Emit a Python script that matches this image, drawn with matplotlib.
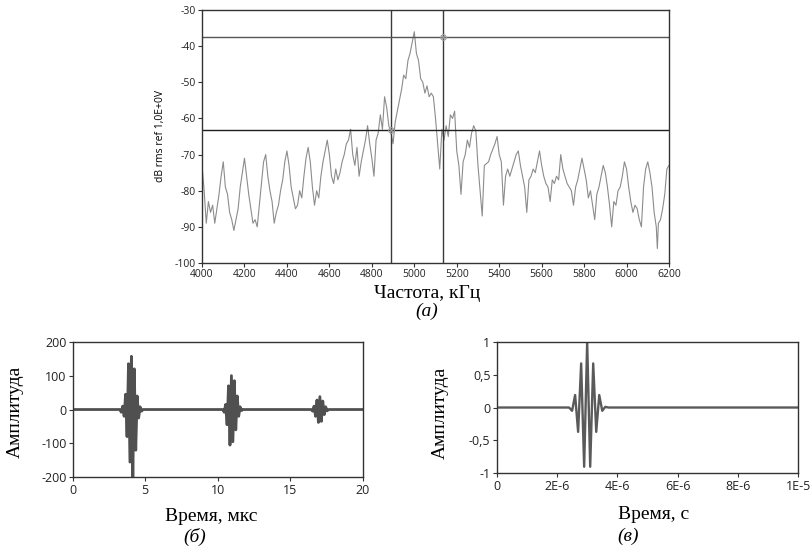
import matplotlib
matplotlib.use("Agg")
import matplotlib.pyplot as plt

plt.rcParams["axes.unicode_minus"] = False

# --- spectrum (a) ---
spec_khz = [4000, 4010, 4020, 4030, 4040, 4050, 4060, 4070, 4080, 4090,
            4100, 4110, 4120, 4130, 4140, 4150, 4160, 4170, 4180, 4190,
            4200, 4210, 4220, 4230, 4240, 4250, 4260, 4270, 4280, 4290,
            4300, 4310, 4320, 4330, 4340, 4350, 4360, 4370, 4380, 4390,
            4400, 4410, 4420, 4430, 4440, 4450, 4460, 4470, 4480, 4490,
            4500, 4510, 4520, 4530, 4540, 4550, 4560, 4570, 4580, 4590,
            4600, 4610, 4620, 4630, 4640, 4650, 4660, 4670, 4680, 4690,
            4700, 4710, 4720, 4730, 4740, 4750, 4760, 4770, 4780, 4790,
            4800, 4810, 4820, 4830, 4840, 4850, 4860, 4870, 4880, 4890,
            4900, 4910, 4920, 4930, 4940, 4950, 4960, 4970, 4980, 4990,
            5000, 5010, 5020, 5030, 5040, 5050, 5060, 5070, 5080, 5090,
            5100, 5110, 5120, 5130, 5140, 5150, 5160, 5170, 5180, 5190,
            5200, 5210, 5220, 5230, 5240, 5250, 5260, 5270, 5280, 5290,
            5300, 5320, 5330, 5350, 5360, 5380, 5390, 5400, 5410, 5420,
            5430, 5440, 5450, 5460, 5470, 5480, 5490, 5500, 5510, 5520,
            5530, 5540, 5550, 5560, 5570, 5580, 5590, 5600, 5610, 5620,
            5630, 5640, 5650, 5660, 5670, 5680, 5690, 5700, 5710, 5720,
            5730, 5740, 5750, 5760, 5770, 5780, 5790, 5800, 5810, 5820,
            5830, 5840, 5850, 5860, 5870, 5880, 5890, 5900, 5910, 5920,
            5930, 5940, 5950, 5960, 5970, 5980, 5990, 6000, 6010, 6020,
            6030, 6040, 6050, 6060, 6070, 6080, 6090, 6100, 6110, 6120,
            6130, 6140, 6145, 6150, 6160, 6170, 6180, 6190, 6200]
spec_db = [-73, -80, -89, -83, -86, -84, -89, -85, -81, -76,
           -72, -79, -81, -86, -88, -91, -88, -85, -79, -75,
           -71, -76, -81, -85, -89, -88, -90, -84, -78, -72,
           -70, -76, -80, -83, -89, -86, -84, -80, -77, -72,
           -69, -73, -79, -82, -85, -84, -80, -82, -76, -71,
           -68, -72, -79, -84, -80, -82, -76, -72, -69, -66,
           -70, -76, -78, -74, -77, -75, -72, -70, -67, -66,
           -63, -70, -73, -68, -76, -72, -69, -66, -62, -67,
           -71, -76, -66, -64, -59, -63, -54, -57, -62, -64,
           -67, -61, -58, -55, -52, -48, -49, -44, -42, -39,
           -36, -42, -44, -49, -50, -53, -51, -54, -53, -54,
           -60, -67, -74, -63, -66, -62, -65, -59, -60, -58,
           -69, -73, -81, -72, -70, -66, -68, -64, -62, -63.5,
           -73, -87, -73, -72, -70, -67, -65, -70, -72, -84,
           -76, -74, -76, -74, -72, -70, -69, -73, -76, -79,
           -86, -77, -76, -74, -75, -72, -69, -73, -76, -78,
           -79, -83, -77, -78, -76, -77, -70, -74, -76, -78,
           -79, -80, -84, -79, -77, -74, -71, -74, -77, -82,
           -80, -84, -88, -81, -79, -76, -73, -75, -79, -84,
           -90, -83, -84, -80, -79, -76, -72, -74, -79, -83,
           -86, -84, -85, -88, -90, -79, -74, -72, -75, -79,
           -86, -90, -96, -89, -88, -85, -81, -74, -73]
cursor_khz = [4890, 5137]
cursor_db = [-63.3, -37.5]

# --- signal with three echoes (б), time in us ---
echo_t = [0, 3.25, 3.35, 3.45, 3.55, 3.65, 3.75, 3.85, 3.95, 4.05, 4.15,
          4.25, 4.35, 4.45, 4.55, 4.65, 4.75, 4.85,
          10.35, 10.45, 10.55, 10.65, 10.75, 10.85, 10.95, 11.05, 11.15,
          11.25, 11.35, 11.45, 11.55, 11.65, 11.75,
          16.45, 16.55, 16.65, 16.75, 16.85, 16.95, 17.05, 17.15, 17.25,
          17.35, 17.45, 17.55, 17.65, 20]
echo_amp = [0, 0, -8, 10, -20, 45, -80, 135, -155, 157, -200,
            120, -120, 40, -25, 8, -5, 0,
            0, -8, 15, -45, 70, -105, 100, -95, 85,
            -60, 40, -20, 8, -3, 0,
            0, -5, 10, -20, 28, -38, 38, -35, 25,
            -15, 8, -4, 0, 0]

# --- probe pulse (в), time in s ---
pulse_t = [0, 2.4e-6, 2.5e-6, 2.6e-6, 2.7e-6, 2.8e-6, 2.9e-6, 3.0e-6,
           3.1e-6, 3.2e-6, 3.3e-6, 3.4e-6, 3.5e-6, 3.6e-6, 3.7e-6, 1e-5]
pulse_amp = [0, 0, -0.05, 0.19, -0.37, 0.67, -0.9, 1.0,
             -0.9, 0.67, -0.37, 0.19, -0.05, 0.01, 0, 0]

tick_font = "Open Sans"
serif = "Liberation Serif"
edge = "#333333"

fig = plt.figure(figsize=(8.12, 5.56), dpi=100)


def style(ax, size):
    for s in ax.spines.values():
        s.set_color(edge)
        s.set_linewidth(1.0)
    ax.tick_params(direction="out", length=3, width=0.8, color=edge,
                   labelsize=size, labelcolor="#222222", pad=1.5)
    for lab in ax.get_xticklabels() + ax.get_yticklabels():
        lab.set_fontfamily(tick_font)


# (a) spectrum
ax1 = fig.add_axes([0.2488, 0.527, 0.5751, 0.455])
ax1.plot(spec_khz, spec_db, color="#8c8c8c", lw=0.8)
ax1.axvline(cursor_khz[0], color="#3a3a3a", lw=1.0)
ax1.axvline(cursor_khz[1], color="#3a3a3a", lw=1.0)
ax1.axhline(cursor_db[0], color="#1e1e1e", lw=1.0)
ax1.axhline(cursor_db[1], color="#555555", lw=1.0)
ax1.plot(cursor_khz, cursor_db, "o", ms=4, mfc="none", mec="#a0a0a0", mew=0.8)
ax1.plot(cursor_khz, cursor_db, "x", ms=3, mec="#a0a0a0", mew=0.8)
ax1.set_xlim(4000, 6200)
ax1.set_ylim(-100, -30)
ax1.set_xticks(range(4000, 6201, 200))
ax1.set_yticks(range(-100, -29, 10))
ax1.set_ylabel("dB rms ref 1,0E+0V", fontsize=7.5, family=tick_font, labelpad=6)
style(ax1, 7.5)
fig.text(0.526, 0.473, "Частота, кГц", family=serif, fontsize=14,
         ha="center", va="center")
fig.text(0.526, 0.44, "(а)", family=serif, fontsize=14, style="italic",
         ha="center", va="center")

# (б) echoes
ax2 = fig.add_axes([0.0895, 0.1415, 0.3571, 0.2439])
ax2.plot(echo_t, echo_amp, color="#505050", lw=2.0)
ax2.set_xlim(0, 20)
ax2.set_ylim(-200, 200)
ax2.set_xticks([0, 5, 10, 15, 20])
ax2.set_yticks([-200, -100, 0, 100, 200])
style(ax2, 9)
fig.text(0.019, 0.26, "Амплитуда", family=serif, fontsize=14,
         rotation=90, ha="center", va="center")
fig.text(0.26, 0.071, "Время, мкс", family=serif, fontsize=14,
         ha="center", va="center")
fig.text(0.24, 0.035, "(б)", family=serif, fontsize=14, style="italic",
         ha="center", va="center")

# (в) probe pulse
ax3 = fig.add_axes([0.6117, 0.1487, 0.3714, 0.2367])
ax3.plot(pulse_t, pulse_amp, color="#5a5a5a", lw=1.7)
ax3.set_xlim(0, 1e-5)
ax3.set_ylim(-1, 1)
ax3.set_xticks([0, 2e-6, 4e-6, 6e-6, 8e-6, 1e-5],
               ["0", "2E-6", "4E-6", "6E-6", "8E-6", "1E-5"])
ax3.set_yticks([-1, -0.5, 0, 0.5, 1], ["-1", "-0,5", "0", "0,5", "1"])
style(ax3, 9)
fig.text(0.542, 0.257, "Амплитуда", family=serif, fontsize=14,
         rotation=90, ha="center", va="center")
fig.text(0.805, 0.074, "Время, с", family=serif, fontsize=14,
         ha="center", va="center")
fig.text(0.773, 0.036, "(в)", family=serif, fontsize=14, style="italic",
         ha="center", va="center")

fig.savefig("out.png", dpi=100)
